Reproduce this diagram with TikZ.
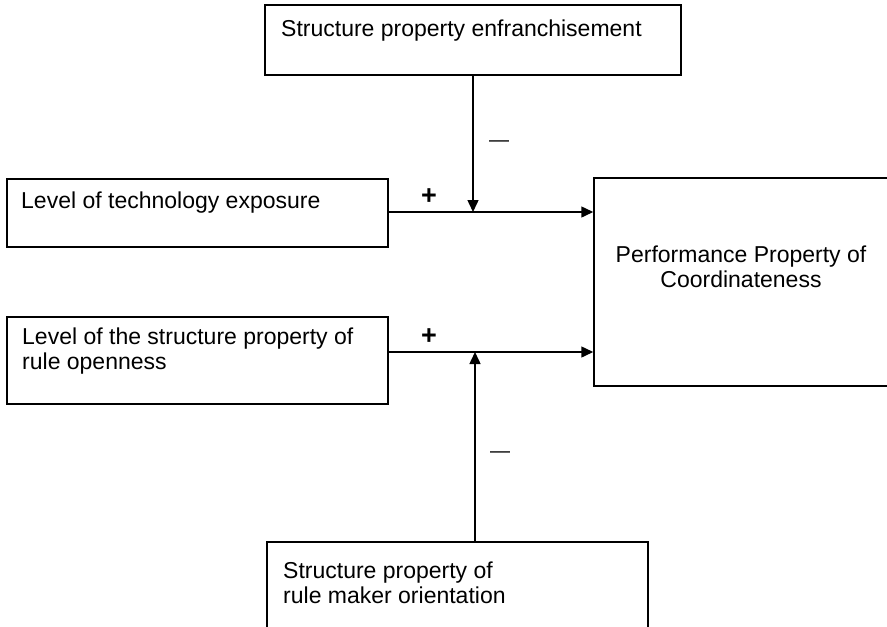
\documentclass[tikz,border=0pt]{standalone}
\usepackage{fontspec}
\setmainfont{Liberation Sans}
\usetikzlibrary{arrows.meta}
\begin{document}
\begin{tikzpicture}[x=1pt,y=-1pt,
  box/.style={draw, line width=1.5pt, rectangle, inner sep=0pt},
  txt/.style={anchor=base west, inner sep=0pt, font=\fontsize{23}{25}\selectfont, align=left},
  ctxt/.style={anchor=base, inner sep=0pt, font=\fontsize{23}{25}\selectfont, align=center},
  sign/.style={inner sep=0pt, font=\fontsize{27}{27}\selectfont\bfseries},
  neg/.style={inner sep=0pt, font=\fontsize{20}{20}\selectfont},
  link/.style={line width=1.5pt, -{Triangle[length=12pt,width=11pt]}}]
\useasboundingbox (0,0) rectangle (887,627);

% boxes
\node[box, minimum width=416pt, minimum height=70pt] (enfr) at (473,40) {};
\node[box, minimum width=381pt, minimum height=68pt] (tech) at (197.5,213) {};
\node[box, minimum width=381pt, minimum height=87pt] (rule) at (197.5,360.5) {};
\node[box, minimum width=306pt, minimum height=208pt] (perf) at (747,282) {};
\node[box, minimum width=381pt, minimum height=120pt] (maker) at (457.5,602) {};

% box texts (the base anchor sits on the last line)
\node[txt] (enfrtext) at (281,36) {Structure property enfranchisement};
\node[txt] (techtext) at (21,208) {Level of technology exposure};
\node[txt] (ruletext) at (22,369) {Level of the structure property of\\rule openness};
\node[ctxt] (perftext) at (741,287) {Performance Property of\\Coordinateness};
\node[txt] (makertext) at (283,603) {Structure property of\\rule maker orientation};

% junctions on the horizontal links
\coordinate (j1) at (473,212);
\coordinate (j2) at (475,352);

% links
\draw[link] (tech.east |- j1) -- (j1 -| perf.west);
\draw[link] (rule.east |- j2) -- (j2 -| perf.west);
\draw[link] (enfr.south) -- (j1);
\draw[link] (maker.north -| j2) -- (j2);

% signs
\node[sign] (p1) at (429,197) {+};
\node[sign] (p2) at (429,337) {+};
\node[neg] (m1) at (499,144) {—};
\node[neg] (m2) at (500,455) {—};
\end{tikzpicture}
\end{document}
